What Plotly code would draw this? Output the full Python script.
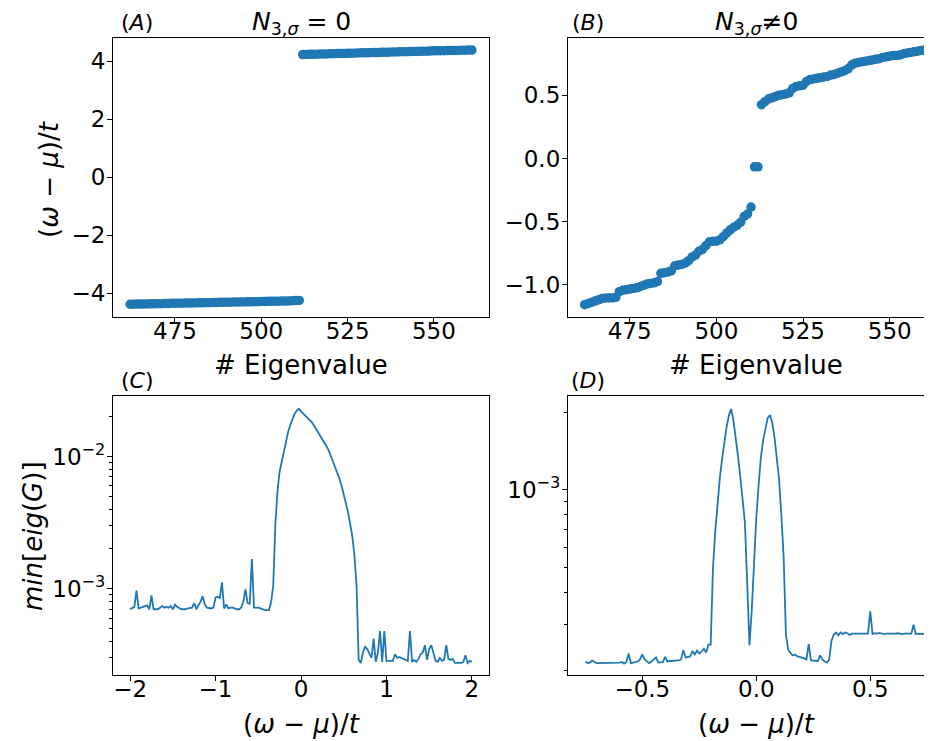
import numpy as np
import plotly.graph_objects as go
from plotly.subplots import make_subplots

W, H = 932, 741
BLUE = "#1f77b4"
FONT = "DejaVu Sans"

# panel A / B: eigenvalue index vs (w - mu)/t
EIG_IDX = list(range(462, 562))

EIG_A = [
    -4.38, -4.38, -4.375, -4.375, -4.37, -4.37, -4.365, -4.365, -4.36, -4.36,
    -4.355, -4.355, -4.35, -4.35, -4.345, -4.345, -4.34, -4.34, -4.335, -4.335,
    -4.33, -4.33, -4.325, -4.325, -4.32, -4.32, -4.315, -4.315, -4.31, -4.31,
    -4.305, -4.305, -4.3, -4.3, -4.295, -4.295, -4.29, -4.29, -4.285, -4.285,
    -4.28, -4.28, -4.275, -4.275, -4.27, -4.27, -4.265, -4.26, -4.255, -4.25,
    4.23, 4.235, 4.24, 4.24, 4.245, 4.25, 4.25, 4.255, 4.26, 4.26,
    4.265, 4.27, 4.27, 4.275, 4.28, 4.28, 4.285, 4.29, 4.29, 4.295,
    4.3, 4.3, 4.305, 4.31, 4.31, 4.315, 4.32, 4.32, 4.325, 4.33,
    4.33, 4.335, 4.34, 4.34, 4.345, 4.35, 4.35, 4.355, 4.36, 4.36,
    4.365, 4.365, 4.37, 4.37, 4.375, 4.375, 4.38, 4.38, 4.385, 4.385,
]

EIG_B = [
    -1.158, -1.15, -1.14, -1.13, -1.12, -1.11, -1.105, -1.105, -1.105, -1.10,
    -1.055, -1.045, -1.04, -1.035, -1.03, -1.025, -1.015, -1.005, -0.995, -0.99,
    -0.985, -0.975, -0.91, -0.905, -0.90, -0.89, -0.85, -0.845, -0.84, -0.83,
    -0.81, -0.78, -0.765, -0.735, -0.72, -0.69, -0.66, -0.655, -0.655, -0.645,
    -0.62, -0.59, -0.565, -0.545, -0.53, -0.505, -0.46, -0.44, -0.385,
    -0.066, -0.066,
    0.426, 0.45, 0.47, 0.48, 0.49, 0.50, 0.505, 0.51, 0.52, 0.555,
    0.57, 0.575, 0.58, 0.61, 0.625, 0.63, 0.635, 0.64, 0.645, 0.65,
    0.66, 0.665, 0.675, 0.685, 0.695, 0.71, 0.74, 0.755, 0.76, 0.765,
    0.77, 0.775, 0.78, 0.785, 0.79, 0.80, 0.805, 0.81, 0.815, 0.815,
    0.82, 0.83, 0.835, 0.84, 0.845, 0.85, 0.855, 0.86, 0.865,
]

# panel C: min eig(G), omega from -2 to 2 in 0.025 steps
MINEIG_C = [
    7.0e-4, 7.2e-4, 7.3e-4, 9.7e-4, 7.1e-4, 7.2e-4, 7.3e-4, 7.4e-4, 7.5e-4, 7.0e-4,
    8.9e-4, 7.0e-4, 7.0e-4, 7.0e-4, 7.2e-4, 7.4e-4, 7.2e-4, 7.3e-4, 7.2e-4, 7.4e-4,
    7.0e-4, 7.6e-4, 7.3e-4, 7.1e-4, 7.0e-4, 7.0e-4, 7.0e-4, 7.1e-4, 7.2e-4, 7.2e-4,
    7.8e-4, 7.0e-4, 7.5e-4, 8.0e-4, 8.8e-4, 7.6e-4, 7.2e-4, 7.1e-4, 7.1e-4, 7.2e-4,
    8.6e-4, 8.7e-4, 8.5e-4, 1.12e-3, 7.1e-4, 7.6e-4, 7.1e-4, 7.2e-4, 7.2e-4, 7.1e-4,
    7.0e-4, 7.0e-4, 7.2e-4, 8.0e-4, 9.9e-4, 7.8e-4, 7.7e-4, 1.68e-3, 7.2e-4, 7.2e-4,
    7.2e-4, 7.1e-4, 7.0e-4, 6.9e-4, 6.9e-4, 6.9e-4, 7.9e-4, 1.05e-3, 3.05e-3, 5.5e-3,
    7.7e-3, 9.2e-3, 0.0112, 0.0135, 0.0154, 0.0173, 0.0192, 0.0210, 0.0222, 0.0229,
    0.0219, 0.0211, 0.0204, 0.0199, 0.0191, 0.0182, 0.0172, 0.0162, 0.0155, 0.0146,
    0.0136, 0.0127, 0.0119, 0.0111, 0.0101, 0.0091, 0.0083, 0.0076, 0.0068, 0.0060,
    0.0052, 0.0046, 0.0038, 0.0031, 0.0025, 0.0018, 1.05e-3, 2.9e-4, 2.75e-4, 3.3e-4,
    3.65e-4, 3.5e-4, 3.2e-4, 3.0e-4, 4.2e-4, 2.8e-4, 3.3e-4, 4.8e-4, 2.8e-4, 4.8e-4,
    2.85e-4, 2.85e-4, 2.85e-4, 2.85e-4, 3.2e-4, 3.0e-4, 3.05e-4, 3.0e-4, 2.95e-4, 2.9e-4,
    2.85e-4, 4.8e-4, 2.8e-4, 2.9e-4, 2.8e-4, 2.95e-4, 3.2e-4, 3.3e-4, 3.75e-4, 2.9e-4,
    3.5e-4, 3.75e-4, 3.3e-4, 2.85e-4, 2.8e-4, 3.0e-4, 2.85e-4, 2.9e-4, 3.75e-4, 2.95e-4,
    2.9e-4, 2.95e-4, 2.75e-4, 2.75e-4, 2.75e-4, 2.75e-4, 2.8e-4, 3.15e-4, 2.75e-4, 2.85e-4,
    2.8e-4,
]
OMEGA_C = np.linspace(-2.0, 2.0, len(MINEIG_C))

# panel D: omega from -0.75 to 0.75 in 0.01 steps
MINEIG_D = [
    2.16e-4, 2.13e-4, 2.14e-4, 2.18e-4, 2.15e-4, 2.13e-4, 2.13e-4, 2.13e-4, 2.13e-4, 2.13e-4,
    2.13e-4, 2.13e-4, 2.14e-4, 2.14e-4, 2.13e-4, 2.14e-4, 2.15e-4, 2.12e-4, 2.15e-4, 2.32e-4,
    2.13e-4, 2.14e-4, 2.15e-4, 2.16e-4, 2.2e-4, 2.3e-4, 2.2e-4, 2.16e-4, 2.13e-4, 2.16e-4,
    2.2e-4, 2.24e-4, 2.14e-4, 2.15e-4, 2.15e-4, 2.25e-4, 2.16e-4, 2.17e-4, 2.17e-4, 2.17e-4,
    2.18e-4, 2.18e-4, 2.2e-4, 2.39e-4, 2.24e-4, 2.25e-4, 2.26e-4, 2.37e-4, 2.3e-4, 2.38e-4,
    2.32e-4, 2.36e-4, 2.42e-4, 2.34e-4, 2.51e-4, 2.51e-4, 4.98e-4, 6.9e-4, 8.9e-4, 1.11e-3,
    1.32e-3, 1.54e-3, 1.76e-3, 1.95e-3, 2.06e-3, 1.85e-3, 1.60e-3, 1.35e-3, 1.12e-3, 9.2e-4,
    7.5e-4, 4.4e-4, 2.5e-4, 3.4e-4, 5.3e-4, 7.77e-4, 1.04e-3, 1.33e-3, 1.56e-3, 1.74e-3,
    1.90e-3, 1.95e-3, 1.82e-3, 1.60e-3, 1.35e-3, 1.10e-3, 8.0e-4, 5.5e-4, 2.75e-4, 2.4e-4,
    2.33e-4, 2.28e-4, 2.3e-4, 2.26e-4, 2.25e-4, 2.24e-4, 2.22e-4, 2.2e-4, 2.53e-4, 2.18e-4,
    2.18e-4, 2.18e-4, 2.17e-4, 2.28e-4, 2.2e-4, 2.16e-4, 2.14e-4, 2.2e-4, 2.6e-4, 2.75e-4,
    2.8e-4, 2.73e-4, 2.8e-4, 2.76e-4, 2.8e-4, 2.78e-4, 2.74e-4, 2.77e-4, 2.77e-4, 2.78e-4,
    2.77e-4, 2.78e-4, 2.77e-4, 2.78e-4, 2.77e-4, 3.38e-4, 2.76e-4, 2.78e-4, 2.77e-4, 2.79e-4,
    2.78e-4, 2.76e-4, 2.77e-4, 2.77e-4, 2.76e-4, 2.77e-4, 2.77e-4, 2.78e-4, 2.77e-4, 2.76e-4,
    2.77e-4, 2.77e-4, 2.76e-4, 2.77e-4, 3.0e-4, 2.76e-4, 2.77e-4, 2.76e-4, 2.77e-4, 2.76e-4,
    2.76e-4,
]
OMEGA_D = np.linspace(-0.75, 0.75, len(MINEIG_D))

LOG_MAJOR_C = [1e-3, 1e-2]
LOG_MINOR_C = [3e-4, 4e-4, 5e-4, 6e-4, 7e-4, 8e-4, 9e-4,
               2e-3, 3e-3, 4e-3, 5e-3, 6e-3, 7e-3, 8e-3, 9e-3, 2e-2]
LOG_MAJOR_D = [1e-3]
LOG_MINOR_D = [2e-4, 3e-4, 4e-4, 5e-4, 6e-4, 7e-4, 8e-4, 9e-4, 2e-3]

fig = make_subplots(rows=2, cols=2)

fig.add_trace(go.Scatter(x=EIG_IDX, y=EIG_A, mode="markers",
                         marker=dict(color=BLUE, size=9.5)), row=1, col=1)
fig.add_trace(go.Scatter(x=EIG_IDX, y=EIG_B, mode="markers",
                         marker=dict(color=BLUE, size=9.5)), row=1, col=2)
fig.add_trace(go.Scatter(x=OMEGA_C, y=MINEIG_C, mode="lines",
                         line=dict(color=BLUE, width=1.8)), row=2, col=1)
fig.add_trace(go.Scatter(x=OMEGA_D, y=MINEIG_D, mode="lines",
                         line=dict(color=BLUE, width=1.8)), row=2, col=2)

ax = dict(showline=True, linecolor="black", linewidth=1.2, ticks="outside",
          ticklen=5, tickwidth=1.2, tickcolor="black", showgrid=False,
          zeroline=False, tickfont=dict(family=FONT, size=23, color="black"))


def px_x(p):
    return p / W


def px_y(p):
    return 1 - p / H


colL = [px_x(105), px_x(481)]
colR = [px_x(560), 1.0]
rowT = [px_y(309), px_y(29.5)]
rowB = [px_y(667.3), px_y(388.3)]

fig.update_xaxes(ax, ticklabelstandoff=-12)
fig.update_yaxes(ax, ticklabelstandoff=-3)

fig.update_xaxes(domain=colL, range=[457.05, 565.95], tickvals=[475, 500, 525, 550],
                 mirror=True, row=1, col=1)
fig.update_yaxes(domain=rowT, range=[-4.82, 4.82], tickvals=[-4, -2, 0, 2, 4],
                 mirror=True, row=1, col=1)
fig.update_xaxes(domain=colR, range=[457.2, 564.5], tickvals=[475, 500, 525, 550],
                 mirror=True, row=1, col=2)
fig.update_yaxes(domain=rowT, range=[-1.256, 0.958], tickvals=[-1.0, -0.5, 0.0, 0.5],
                 tickformat=".1f", row=1, col=2)

fig.update_xaxes(domain=colL, range=[-2.2, 2.2], tickvals=[-2, -1, 0, 1, 2],
                 mirror=True, row=2, col=1)
fig.update_yaxes(domain=rowB, type="log", range=[-3.654, -1.545],
                 tickvals=LOG_MAJOR_C, ticktext=["10<sup>−3</sup>", "10<sup>−2</sup>"],
                 mirror=True,
                 minor=dict(tickvals=LOG_MINOR_C, ticks="outside", ticklen=3,
                            tickwidth=1, tickcolor="black", showgrid=False),
                 row=2, col=1)
fig.update_xaxes(domain=colR, range=[-0.826, 0.806], tickvals=[-0.5, 0.0, 0.5],
                 tickformat=".1f", mirror=True, row=2, col=2)
fig.update_yaxes(domain=rowB, type="log", range=[-3.719, -2.637],
                 tickvals=LOG_MAJOR_D, ticktext=["10<sup>−3</sup>"],
                 minor=dict(tickvals=LOG_MINOR_D, ticks="outside", ticklen=3,
                            tickwidth=1, tickcolor="black", showgrid=False),
                 row=2, col=2)

LBL = 26
texts = [
    # (text, x px, y px, size, angle)
    ("(<i>A</i>)", 129, 15, 22, 0),
    ("<i>N</i><sub>3,<i>σ</i></sub> = 0", 293, 15, 25, 0),
    ("(<i>B</i>)", 580, 15, 22, 0),
    ("<i>N</i><sub>3,<i>σ</i></sub>≠0", 748, 15, 25, 0),
    ("(<i>C</i>)", 129, 372, 22, 0),
    ("(<i>D</i>)", 580, 372, 22, 0),
    ("# Eigenvalue", 293, 357, LBL, 0),
    ("# Eigenvalue", 748, 357, LBL, 0),
    ("(<i>ω</i> − <i>μ</i>)/<i>t</i>", 293, 716, LBL, 0),
    ("(<i>ω</i> − <i>μ</i>)/<i>t</i>", 748, 716, LBL, 0),
    ("(<i>ω</i> − <i>μ</i>)/<i>t</i>", 41, 172, LBL, -90),
    ("<i>min</i>[<i>eig</i>(<i>G</i>)]", 25, 528, LBL, -90),
]
for t, x, y, s, a in texts:
    fig.add_annotation(text=t, x=px_x(x), y=px_y(y), xref="paper", yref="paper",
                       showarrow=False, textangle=a, xanchor="center", yanchor="middle",
                       font=dict(family=FONT, size=s, color="black"))

fig.update_layout(width=W, height=H, margin=dict(l=0, r=0, t=0, b=0),
                  showlegend=False, plot_bgcolor="white", paper_bgcolor="white",
                  font=dict(family=FONT))

fig.write_html("out.html")
